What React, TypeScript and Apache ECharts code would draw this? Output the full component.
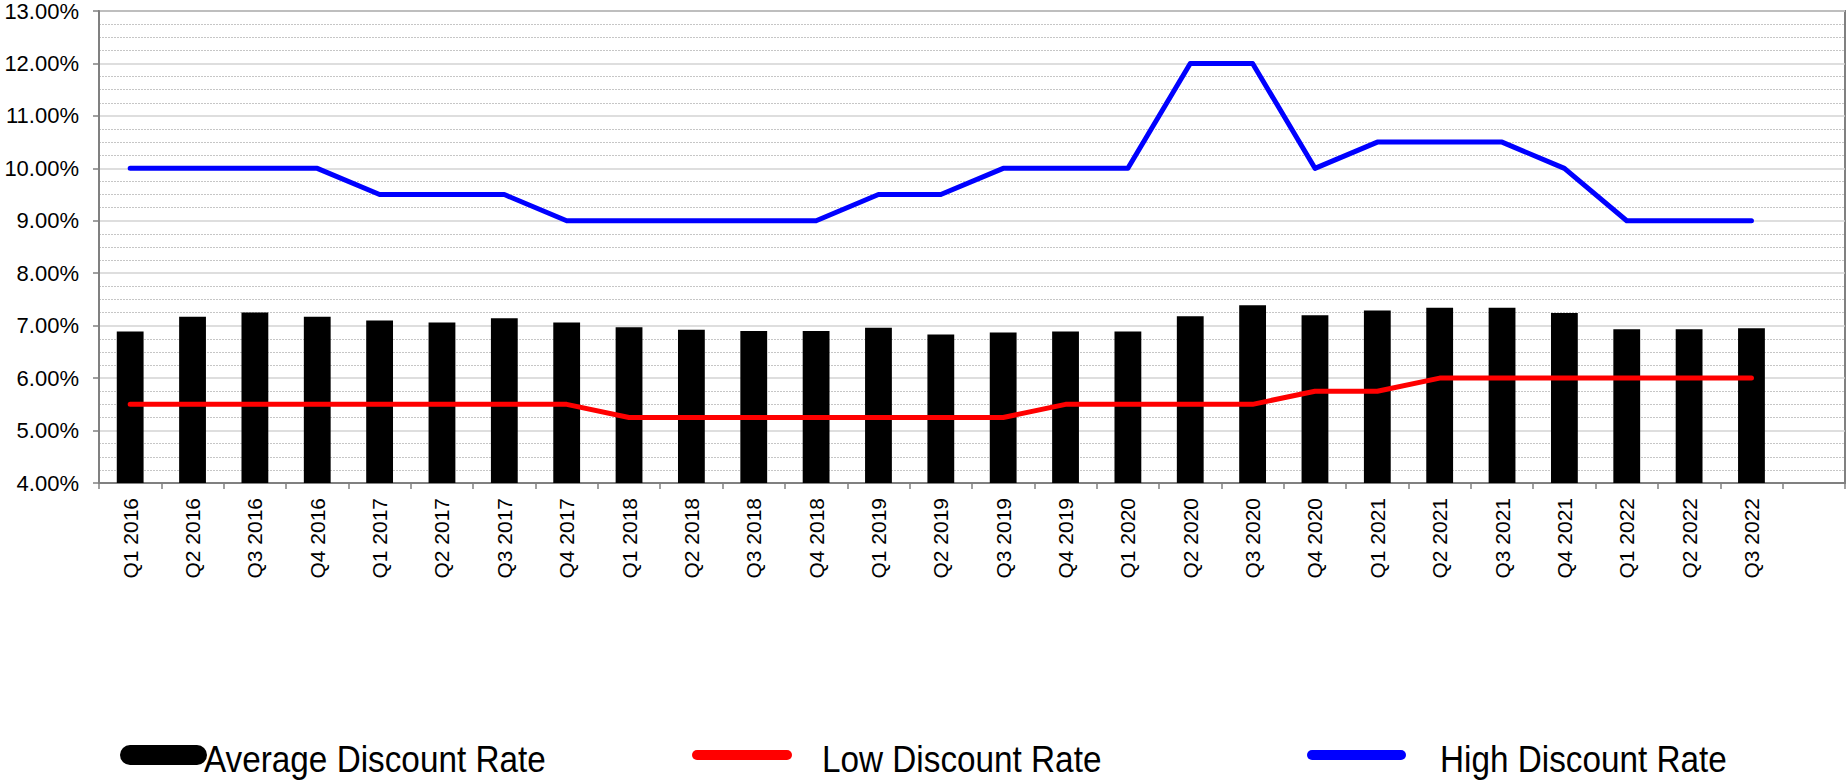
import React, { useEffect, useRef } from "react";
import * as echarts from "echarts";

// Quarterly discount rates, in percent
const quarters = [
  "Q1 2016", "Q2 2016", "Q3 2016", "Q4 2016",
  "Q1 2017", "Q2 2017", "Q3 2017", "Q4 2017",
  "Q1 2018", "Q2 2018", "Q3 2018", "Q4 2018",
  "Q1 2019", "Q2 2019", "Q3 2019", "Q4 2019",
  "Q1 2020", "Q2 2020", "Q3 2020", "Q4 2020",
  "Q1 2021", "Q2 2021", "Q3 2021", "Q4 2021",
  "Q1 2022", "Q2 2022", "Q3 2022",
  "", // trailing empty slot on the category axis
];

const averageRate = [
  6.89, 7.17, 7.25, 7.17,
  7.10, 7.06, 7.14, 7.06,
  6.97, 6.92, 6.90, 6.90,
  6.96, 6.83, 6.87, 6.89,
  6.89, 7.18, 7.39, 7.20,
  7.29, 7.34, 7.34, 7.24,
  6.93, 6.93, 6.95,
];

const lowRate = [
  5.5, 5.5, 5.5, 5.5,
  5.5, 5.5, 5.5, 5.5,
  5.25, 5.25, 5.25, 5.25,
  5.25, 5.25, 5.25, 5.5,
  5.5, 5.5, 5.5, 5.75,
  5.75, 6.0, 6.0, 6.0,
  6.0, 6.0, 6.0,
];

const highRate = [
  10, 10, 10, 10,
  9.5, 9.5, 9.5, 9,
  9, 9, 9, 9,
  9.5, 9.5, 10, 10,
  10, 12, 12, 10,
  10.5, 10.5, 10.5, 10,
  9, 9, 9,
];

const yMin = 4;
const yMax = 13;
const yStep = 1;

const FONT = "'Liberation Sans', Arial, Helvetica, sans-serif";
const FRAME = "#808080";

function legendItem(
  name: string,
  color: string,
  iconX: number,
  iconW: number,
  iconH: number,
  textX: number
) {
  return {
    type: "group",
    children: [
      {
        type: "rect",
        shape: { x: iconX, y: 755 - iconH / 2, width: iconW, height: iconH, r: iconH / 2 },
        style: { fill: color },
      },
      {
        type: "text",
        x: textX,
        y: 759,
        scaleX: 0.9,
        style: {
          text: name,
          font: `37px ${FONT}`,
          fill: "#000",
          verticalAlign: "middle",
          align: "left",
        },
      },
    ],
  };
}

export default function App() {
  const ref = useRef<HTMLDivElement>(null);

  useEffect(() => {
    if (!ref.current) return;
    const chart = echarts.init(ref.current, undefined, { renderer: "svg" });

    chart.setOption({
      animation: false,
      backgroundColor: "#ffffff",
      textStyle: { fontFamily: FONT, color: "#000" },
      grid: {
        left: 99,
        right: 2,
        top: 9,
        bottom: 298,
        show: true,
        borderColor: FRAME,
        borderWidth: 2,
        backgroundColor: "transparent",
      },
      xAxis: {
        type: "category",
        data: quarters,
        boundaryGap: true,
        axisLine: { show: true, lineStyle: { color: FRAME, width: 2 } },
        axisTick: { show: true, length: 6, inside: false, lineStyle: { color: FRAME, width: 1.5 } },
        axisLabel: {
          rotate: 90,
          margin: 15,
          interval: 0,
          fontSize: 21,
          fontFamily: FONT,
          color: "#000",
        },
        splitLine: { show: false },
      },
      yAxis: {
        type: "value",
        min: yMin,
        max: yMax,
        interval: yStep,
        axisLine: { show: true, lineStyle: { color: FRAME, width: 2 } },
        axisTick: { show: true, length: 6, inside: false, lineStyle: { color: FRAME, width: 1.5 } },
        axisLabel: {
          margin: 20,
          fontSize: 22,
          fontFamily: FONT,
          color: "#000",
          formatter: (v: number) => `${v.toFixed(2)}%`,
        },
        splitLine: { show: true, lineStyle: { color: "#d3d3d3", width: 1.5 } },
        minorTick: { show: false, splitNumber: 4 },
        minorSplitLine: {
          show: true,
          lineStyle: { color: "#c6c6c6", width: 1, type: [2, 1] },
        },
      },
      series: [
        {
          name: "Average Discount Rate",
          type: "bar",
          data: averageRate,
          barWidth: "43%",
          itemStyle: { color: "#000000" },
          z: 2,
        },
        {
          name: "Low Discount Rate",
          type: "line",
          data: lowRate,
          symbol: "none",
          showSymbol: false,
          lineStyle: { color: "#ff0000", width: 5, cap: "round", join: "round" },
          z: 3,
        },
        {
          name: "High Discount Rate",
          type: "line",
          data: highRate,
          symbol: "none",
          showSymbol: false,
          lineStyle: { color: "#0000ff", width: 5, cap: "round", join: "round" },
          z: 3,
        },
      ],
      graphic: [
        legendItem("Average Discount Rate", "#000000", 120, 87, 20, 204),
        legendItem("Low Discount Rate", "#ff0000", 692, 100, 10, 822),
        legendItem("High Discount Rate", "#0000ff", 1307, 99, 10, 1440),
      ],
    });

    return () => chart.dispose();
  }, []);

  return (
    <div
      ref={ref}
      style={{ position: "fixed", left: 0, top: 0, width: "1847px", height: "781px", background: "#fff" }}
    />
  );
}
